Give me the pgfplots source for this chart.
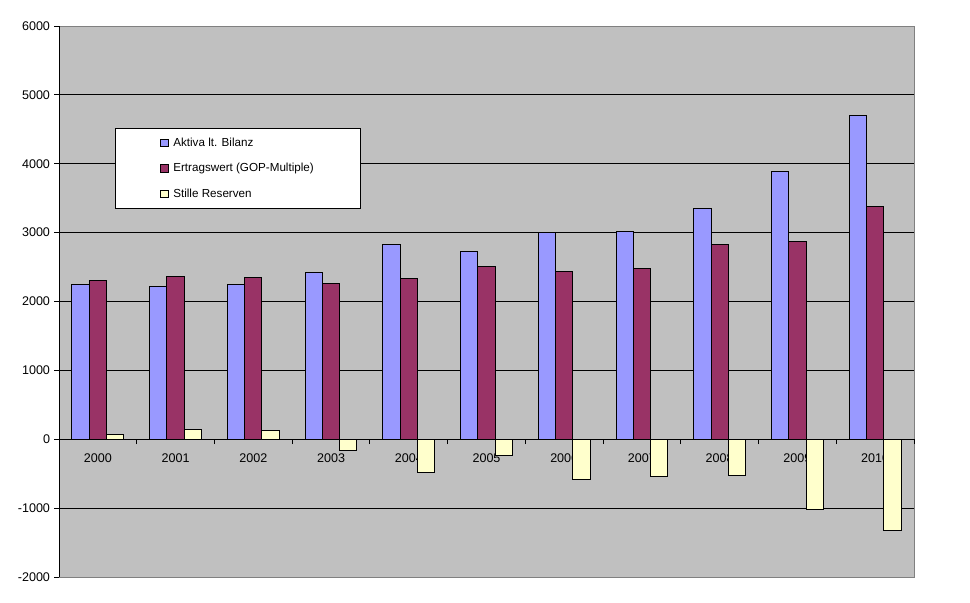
\documentclass[border=0pt]{standalone}
\usepackage{pgfplots}
\pgfplotsset{compat=1.18}
\usepackage{fontspec}
\setmainfont{Liberation Sans}
\definecolor{aktiva}{HTML}{9999FF}
\definecolor{ertrag}{HTML}{993366}
\definecolor{stille}{HTML}{FFFFCC}
\definecolor{plotbg}{HTML}{C0C0C0}
\definecolor{border}{HTML}{808080}
\begin{document}
\begin{tikzpicture}
\path[use as bounding box] (0,0) rectangle (970bp,603bp);
\begin{axis}[
  at={(59bp,26bp)}, anchor=south west,
  scale only axis, width=855bp, height=551bp,
  xmin=-0.5, xmax=10.5, ymin=-2000, ymax=6000,
  axis x line=middle, axis y line=left,
  axis line style={-, black, line width=0.9bp},
  axis background/.style={fill=plotbg, draw=border, line width=0.9bp},
  hide obscured x ticks=false, hide obscured y ticks=false,
  ybar=0pt, bar width=17.3bp,
  xtick={0,...,10},
  xticklabels={2000,2001,2002,2003,2004,2005,2006,2007,2008,2009,2010},
  major x tick style={draw=none},
  minor xtick={-0.5,0.5,...,10.5},
  minor tick length=5bp,
  tick align=outside,
  major tick length=5bp,
  tick style={black, line width=0.9bp},
  ytick={-2000,-1000,...,6000},
  extra y ticks={-1000,0,...,5000},
  extra y tick labels={},
  extra y tick style={grid=major, major tick length=0pt},
  major grid style={black, line width=0.9bp},
  /pgf/number format/assume math mode=true,
  /pgf/number format/set thousands separator={},
  ticklabel style={font=\fontsize{12.6}{15}\selectfont},
  xticklabel style={yshift=-6bp},
  yticklabel style={xshift=-0.5bp},
  legend style={at={(axis description cs:0.0655,0.815)}, anchor=north west,
    draw=black, line width=0.9bp, fill=white,
    font=\fontsize{11.7}{14}\selectfont,
    inner xsep=45bp, inner ysep=7.5bp, row sep=11.5bp},
  legend cell align=left,
  legend image code/.code={\draw[#1, line width=0.7bp] (0bp,-3.8bp) rectangle (7.6bp,3.8bp);
    \path (10bp,0bp);},
]
\addplot[fill=aktiva, draw=black, line width=1bp] coordinates {
 (0,2240) (1,2221) (2,2240) (3,2424) (4,2830) (5,2728) (6,3004) (7,3019) (8,3353) (9,3890) (10,4702)};
\addplot[fill=ertrag, draw=black, line width=1bp] coordinates {
 (0,2308) (1,2370) (2,2355) (3,2268) (4,2337) (5,2511) (6,2438) (7,2482) (8,2830) (9,2874) (10,3382)};
\addplot[fill=stille, draw=black, line width=1bp] coordinates {
 (0,73) (1,145) (2,120) (3,-165) (4,-479) (5,-232) (6,-581) (7,-542) (8,-528) (9,-1016) (10,-1321)};
\legend{Aktiva lt. Bilanz, Ertragswert (GOP-Multiple), Stille Reserven}
\end{axis}
\end{tikzpicture}
\end{document}
